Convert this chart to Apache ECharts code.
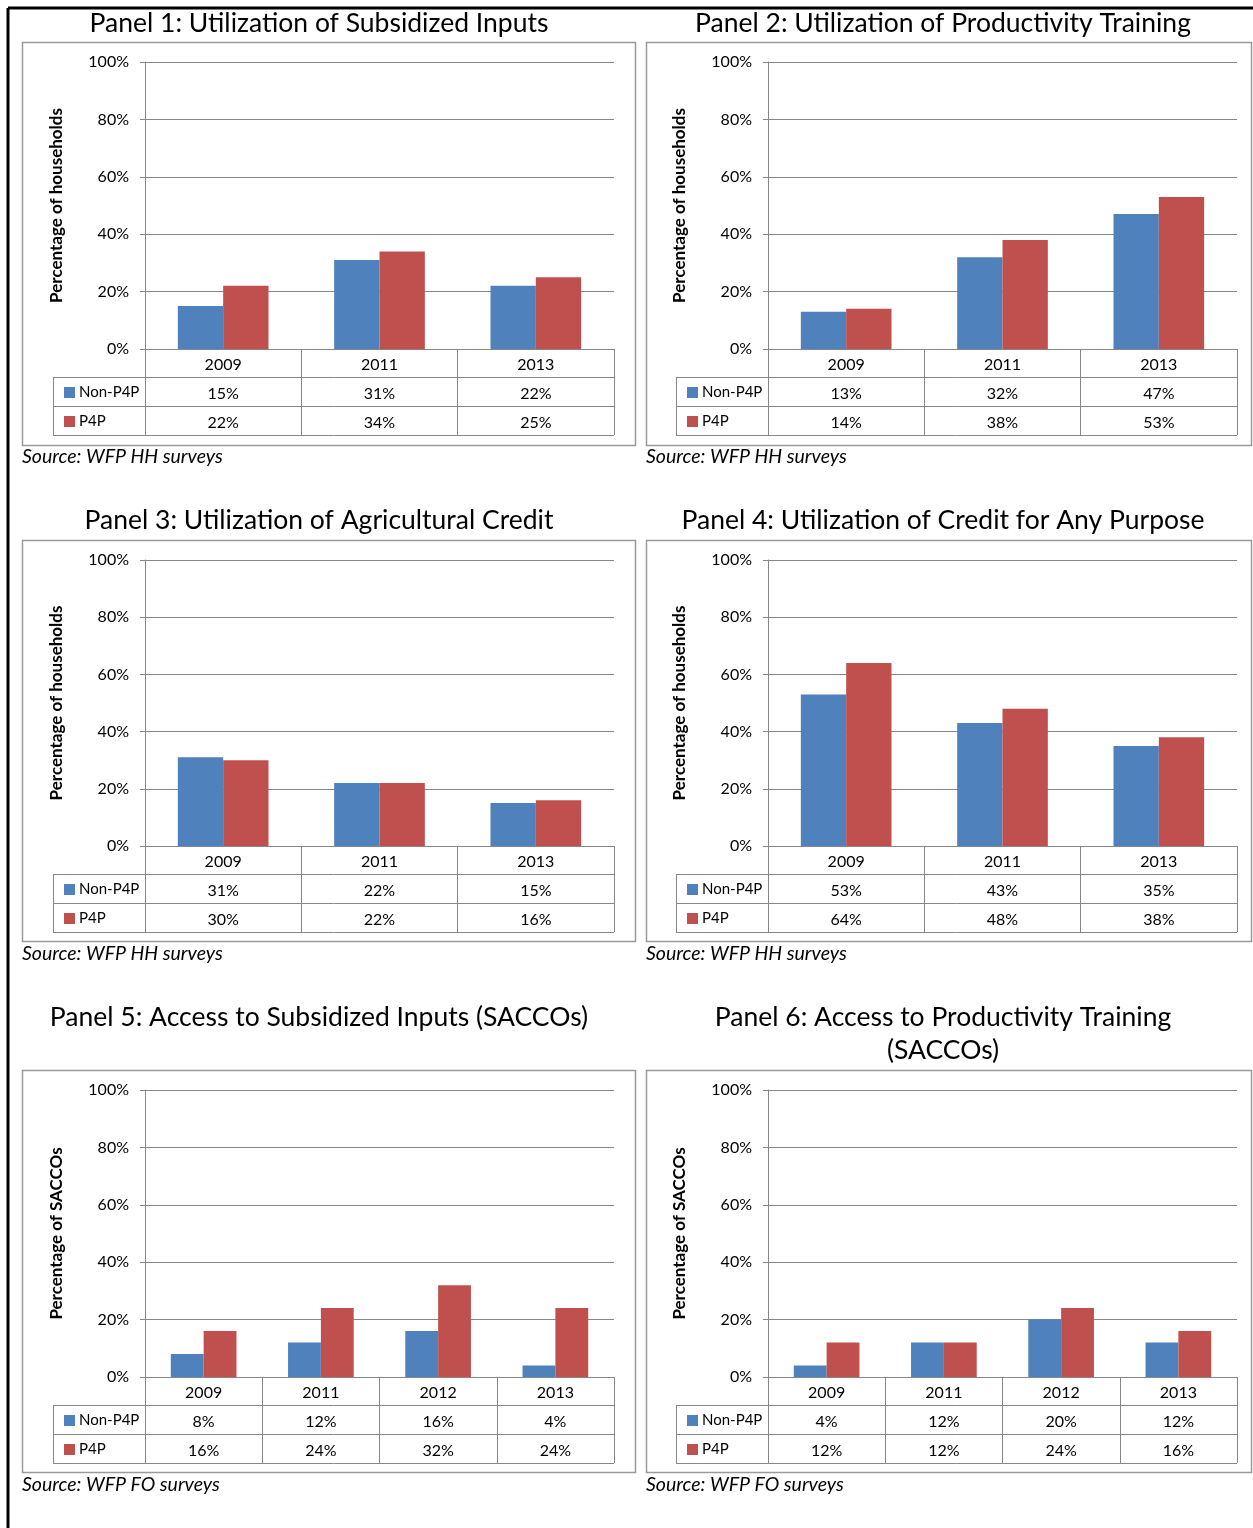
<!DOCTYPE html>
<html>
<head>
<meta charset="utf-8">
<script src="https://cdn.jsdelivr.net/npm/echarts@6/dist/echarts.min.js"></script>
<style>
  html, body { margin: 0; padding: 0; background: #fff; }
  #chart { width: 1253px; height: 1528px; }
</style>
</head>
<body>
<div id="chart"></div>
<script>
// ---- Data ----
const years3 = ['2009', '2011', '2013'];
const years4 = ['2009', '2011', '2012', '2013'];

const subsidizedInputsNon = [15, 31, 22];
const subsidizedInputsP4P = [22, 34, 25];

const trainingNon = [13, 32, 47];
const trainingP4P = [14, 38, 53];

const agriCreditNon = [31, 22, 15];
const agriCreditP4P = [30, 22, 16];

const anyCreditNon = [53, 43, 35];
const anyCreditP4P = [64, 48, 38];

const saccoInputsNon = [8, 12, 16, 4];
const saccoInputsP4P = [16, 24, 32, 24];

const saccoTrainingNon = [4, 12, 20, 12];
const saccoTrainingP4P = [12, 12, 24, 16];

const yTicks = [0, 20, 40, 60, 80, 100];
const seriesNames = ['Non-P4P', 'P4P'];

const panelTitles = [
  ['Panel 1: Utilization of Subsidized Inputs'],
  ['Panel 2: Utilization of Productivity Training'],
  ['Panel 3: Utilization of Agricultural Credit'],
  ['Panel 4: Utilization of Credit for Any Purpose'],
  ['Panel 5: Access to Subsidized Inputs (SACCOs)'],
  ['Panel 6: Access to Productivity Training', '(SACCOs)']
];
const axisNames = [
  'Percentage of households', 'Percentage of households',
  'Percentage of households', 'Percentage of households',
  'Percentage of SACCOs', 'Percentage of SACCOs'
];
const sourceNotes = [
  'Source: WFP HH surveys', 'Source: WFP HH surveys',
  'Source: WFP HH surveys', 'Source: WFP HH surveys',
  'Source: WFP FO surveys', 'Source: WFP FO surveys'
];

const panels = [
  { cats: years3, non: subsidizedInputsNon, p4p: subsidizedInputsP4P },
  { cats: years3, non: trainingNon, p4p: trainingP4P },
  { cats: years3, non: agriCreditNon, p4p: agriCreditP4P },
  { cats: years3, non: anyCreditNon, p4p: anyCreditP4P },
  { cats: years4, non: saccoInputsNon, p4p: saccoInputsP4P },
  { cats: years4, non: saccoTrainingNon, p4p: saccoTrainingP4P }
];

// ---- Layout ----
const BLUE = '#4F81BD';
const RED = '#C0504D';
const GRAY = '#878787';
const BOX_GRAY = '#9a9a9a';
const TXT_FONT = 'Lato, "Open Sans", sans-serif';
const TITLE_FONT = 'Lato, "Noto Sans", sans-serif';

const cols = [
  { boxX: 22, boxR: 635, plotL: 145, plotR: 614, tableL: 53, titleX: 319, srcX: 22 },
  { boxX: 646, boxR: 1251, plotL: 768, plotR: 1237, tableL: 676, titleX: 943, srcX: 646 }
];
const rows = [
  { boxY: 42, boxB: 445, plotT: 62, plotB: 349, titleY: 23, srcY: 457 },
  { boxY: 540, boxB: 941, plotT: 560, plotB: 846, titleY: 520, srcY: 954 },
  { boxY: 1070, boxB: 1472, plotT: 1090, plotB: 1377, titleY: 1017, srcY: 1485 }
];
const ROW_H = 29;
const TABLE_H = 86;

const W = 1253, H = 1528;

const grids = [], xAxes = [], yAxes = [], series = [], legends = [], graphics = [];

// outer frame
graphics.push({ type: 'line', silent: true, shape: { x1: 8, y1: 8, x2: W, y2: 8 },
  style: { stroke: '#000', lineWidth: 3 } });
graphics.push({ type: 'line', silent: true, shape: { x1: 8, y1: 8, x2: 8, y2: H },
  style: { stroke: '#000', lineWidth: 3 } });

panels.forEach((p, i) => {
  const c = cols[i % 2];
  const r = rows[Math.floor(i / 2)];

  grids.push({ left: c.plotL, top: r.plotT, width: c.plotR - c.plotL, height: r.plotB - r.plotT, containLabel: false });

  xAxes.push({
    type: 'category', gridIndex: i, data: p.cats,
    axisLine: { show: true, lineStyle: { color: GRAY, width: 1 } },
    axisTick: { show: true, length: TABLE_H, interval: 0, lineStyle: { color: GRAY, width: 1 } },
    axisLabel: {
      interval: 0, margin: 1, lineHeight: ROW_H, fontSize: 16, color: '#000',
      fontFamily: TXT_FONT,
      formatter: (v, idx) => v + '\n' + p.non[idx] + '%\n' + p.p4p[idx] + '%'
    },
    splitLine: { show: false }
  });

  yAxes.push({
    type: 'value', gridIndex: i, min: 0, max: 100, interval: 20,
    name: axisNames[i], nameLocation: 'middle', nameGap: 80, nameRotate: 90,
    nameTextStyle: { fontSize: 17, fontWeight: 'bold', color: '#000', fontFamily: TXT_FONT },
    axisLine: { show: true, lineStyle: { color: GRAY, width: 1 } },
    axisTick: { show: true, length: 5, lineStyle: { color: GRAY } },
    axisLabel: { margin: 16, fontSize: 16, color: '#000', fontFamily: TXT_FONT,
      formatter: v => v + '%' },
    splitLine: { show: true, lineStyle: { color: GRAY, width: 1 } }
  });

  series.push({
    type: 'bar', name: seriesNames[0], xAxisIndex: i, yAxisIndex: i, data: p.non,
    barGap: '0%', barCategoryGap: i >= 4 ? '44%' : '42%',
    itemStyle: { color: BLUE }
  });
  series.push({
    type: 'bar', name: seriesNames[1], xAxisIndex: i, yAxisIndex: i, data: p.p4p,
    barGap: '0%', barCategoryGap: i >= 4 ? '44%' : '42%',
    itemStyle: { color: RED }
  });

  legends.push({
    data: seriesNames, orient: 'vertical', left: c.tableL + 6, top: r.plotB + 31,
    itemWidth: 11, itemHeight: 11, itemGap: 14, icon: 'rect',
    selectedMode: false,
    textStyle: { fontSize: 15, lineHeight: 14, color: '#000', fontFamily: TXT_FONT, padding: [0, 0, 0, -1] }
  });

  // chart frame
  graphics.push({ type: 'rect', silent: true,
    shape: { x: c.boxX + 0.5, y: r.boxY + 0.5, width: c.boxR - c.boxX, height: r.boxB - r.boxY },
    style: { fill: null, stroke: BOX_GRAY, lineWidth: 1.5 } });

  // data table rules
  [ROW_H - 1, 2 * ROW_H - 1, TABLE_H].forEach(dy => {
    graphics.push({ type: 'line', silent: true,
      shape: { x1: c.tableL, y1: r.plotB + dy + 0.5, x2: c.plotR, y2: r.plotB + dy + 0.5 },
      style: { stroke: GRAY, lineWidth: 1 } });
  });
  graphics.push({ type: 'line', silent: true,
    shape: { x1: c.tableL + 0.5, y1: r.plotB + ROW_H - 1, x2: c.tableL + 0.5, y2: r.plotB + TABLE_H + 1 },
    style: { stroke: GRAY, lineWidth: 1 } });

  // panel title
  panelTitles[i].forEach((line, k) => {
    graphics.push({ type: 'text', silent: true,
      style: { text: line, x: c.titleX, y: r.titleY + k * 33, textAlign: 'center', textVerticalAlign: 'middle',
        font: '26.5px ' + TITLE_FONT, fill: '#000' } });
  });

  // source note
  graphics.push({ type: 'text', silent: true,
    style: { text: sourceNotes[i], x: c.srcX, y: r.srcY, textAlign: 'left', textVerticalAlign: 'middle',
      font: 'italic 19.5px ' + TITLE_FONT, fill: '#000' } });
});

const chart = echarts.init(document.getElementById('chart'), null, { renderer: 'canvas' });
chart.setOption({
  animation: false,
  backgroundColor: '#fff',
  grid: grids,
  xAxis: xAxes,
  yAxis: yAxes,
  legend: legends,
  series: series,
  graphic: graphics
});
</script>
</body>
</html>
